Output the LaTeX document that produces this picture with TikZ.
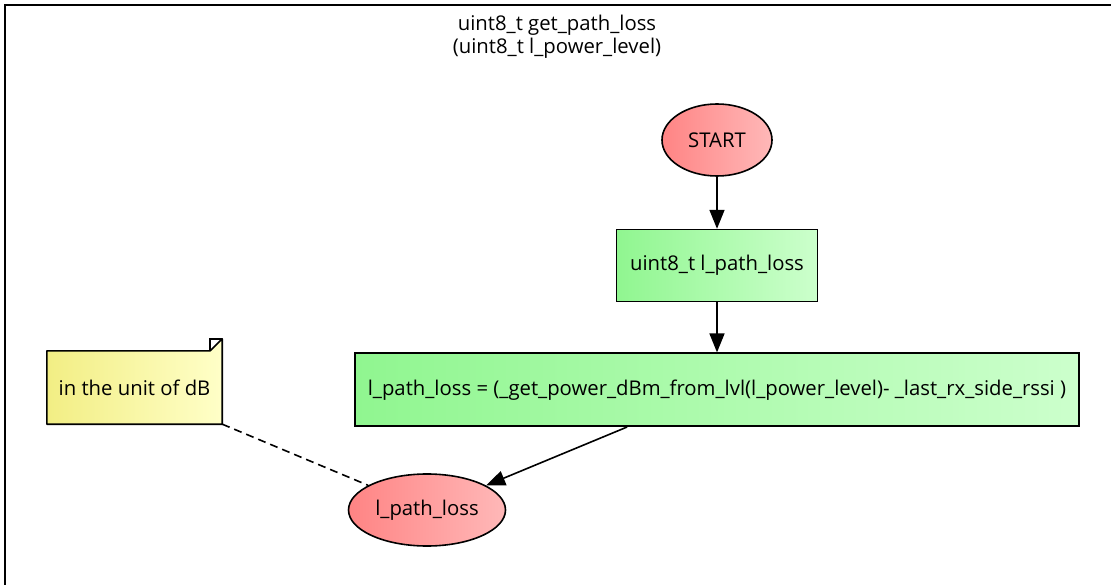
\documentclass[tikz,border=0pt]{standalone}
\usepackage{fontspec}
\setmainfont{Open Sans}
\usepackage{tikz}
\usetikzlibrary{arrows.meta,positioning,shapes.geometric,backgrounds}
\definecolor{redL}{HTML}{FF8484}
\definecolor{redR}{HTML}{FFB8B8}
\definecolor{greenL}{HTML}{90F690}
\definecolor{greenR}{HTML}{CCFFCC}
\definecolor{yellowL}{HTML}{F2EE84}
\definecolor{yellowR}{HTML}{FFFFC8}

\begin{document}
\begin{tikzpicture}[x=1pt,y=-1pt,
    every node/.style={font=\fontsize{20.3}{23}\selectfont},
    terminal/.style={ellipse,draw,line width=1.6pt,minimum height=72pt,left color=redL,right color=redR},
    stmt/.style={rectangle,draw,line width=1.6pt,minimum height=73pt,left color=greenL,right color=greenR},
    flow/.style={-{Triangle[length=19pt,width=15pt]},line width=1.6pt}]
      \useasboundingbox (0,0) rectangle (1111,585);
      % cluster frame
      \draw[line width=1.8pt] (1111,5) -- (5,5) -- (5,585);
      \node[align=center] (title) at (557,37) {uint8\_t get\_path\_loss\\(uint8\_t l\_power\_level)};
      % flow
      \node[terminal,minimum width=110pt] (start) at (717,140) {START};
      \node[stmt,minimum width=201pt,minimum height=72pt,below=52pt of start] (decl) {uint8\_t l\_path\_loss};
      \node[stmt,minimum width=724pt,below=50pt of decl] (calc) {l\_path\_loss = (\_get\_power\_dBm\_from\_lvl(l\_power\_level)- \_last\_rx\_side\_rssi )};
      \node[terminal,minimum width=157pt] (ret) at (427,510) {l\_path\_loss};
      % note with folded corner
      \node[minimum width=175pt,minimum height=73pt] (note) at (134.5,387.5) {in the unit of dB};
      \begin{pgfonlayer}{background}
        \fill[white] (0,0) rectangle (1111,585);
        \shade[left color=yellowL,right color=yellowR] (note.south west) -- (note.north west) -- ([xshift=-12pt]note.north east) -- ([yshift=12pt]note.north east) -- (note.south east) -- cycle;
      \end{pgfonlayer}
      \draw[line width=1.6pt,line join=round] (note.south west) -- (note.north west) -- ([xshift=-12pt]note.north east) -- ([yshift=12pt]note.north east) -- (note.south east) -- cycle;
      \draw[line width=1.6pt] ([xshift=-12pt]note.north east) -- ([xshift=-12pt,yshift=12pt]note.north east) -- ([yshift=12pt]note.north east);
      % edges
      \draw[flow] (start) -- (decl);
      \draw[flow] (decl) -- (calc);
      \draw[flow] (calc) -- (ret);
      \draw[dashed,dash pattern=on 8pt off 5pt,line width=1.6pt] (note) -- (ret);
    \end{tikzpicture}
\end{document}
